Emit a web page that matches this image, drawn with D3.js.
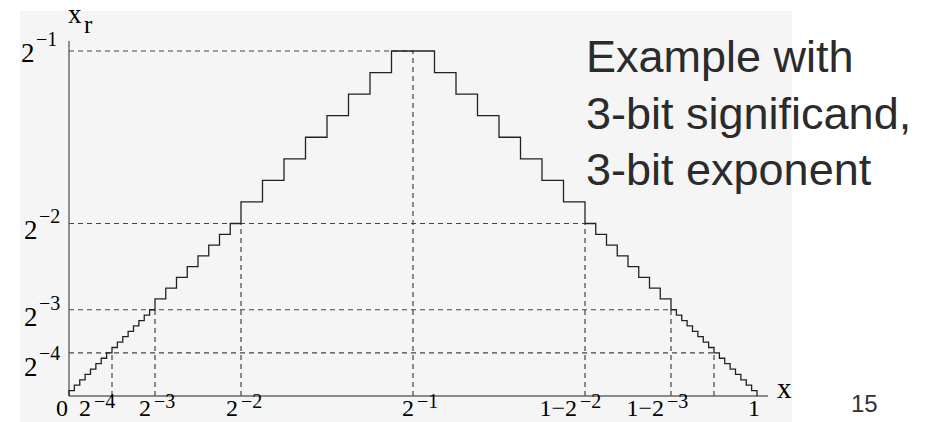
<!DOCTYPE html>
<html>
<head>
<meta charset="utf-8">
<script src="https://cdn.jsdelivr.net/npm/d3@7"></script>
<style>
  body { margin: 0; background: #fff; }
  svg { display: block; }
</style>
</head>
<body>
<div id="vis"></div>
<script>
// rounded value x_r against x, both in units of 1/128
var stepX = [0,1,2,3,4,5,6,7,8,9,10,11,12,13,14,15,16,
  18,20,22,24,26,28,30,32,
  36,40,44,48,52,56,60,64,
  68,72,76,80,84,88,92,96,
  98,100,102,104,106,108,110,112,
  113,114,115,116,117,118,119,120,121,122,123,124,125,126,127,128,128];
var stepY = [0,1,2,3,4,5,6,7,8,9,10,11,12,13,14,15,16,
  18,20,22,24,26,28,30,32,
  36,40,44,48,52,56,60,64,
  64,60,56,52,48,44,40,36,
  32,30,28,26,24,22,20,18,
  16,15,14,13,12,11,10,9,8,7,6,5,4,3,2,1,0];

// powers of two marked with dashed guides
var guideVals = [1/16, 1/8, 1/4, 1/2];

// tick labels: base text and superscript
var xTickVals = [0, 1/16, 1/8, 1/4, 1/2, 3/4, 7/8, 1];
var xTickBase = ["0", "2", "2", "2", "2", "1\u22122", "1\u22122", "1"];
var xTickSup  = ["", "\u22124", "\u22123", "\u22122", "\u22121", "\u22122", "\u22123", ""];
var yTickVals = [1/2, 1/4, 1/8, 1/16];
var yTickBase = ["2", "2", "2", "2"];
var yTickSup  = ["\u22121", "\u22122", "\u22123", "\u22124"];

var titleLines = ["Example with", "3-bit significand,", "3-bit exponent"];
var pageNumber = "15";

var W = 943, H = 422;
var svg = d3.select("#vis").append("svg")
    .attr("width", W)
    .attr("height", H);

// slide panel
svg.append("rect")
    .attr("x", 20).attr("y", 11)
    .attr("width", 772).attr("height", H - 11)
    .attr("fill", "#f5f5f5");

var x = d3.scaleLinear().domain([0, 1]).range([69, 757]);
var y = d3.scaleLinear().domain([0, 0.5]).range([396, 51]);

var serif = "'Liberation Serif', 'Times New Roman', serif";
var g = svg.append("g");

// dashed guides
var guides = g.append("g")
    .attr("stroke", "#444")
    .attr("stroke-width", 1.2)
    .attr("stroke-dasharray", "5,4")
    .attr("fill", "none");

guides.selectAll("line.h")
  .data(guideVals)
  .enter().append("line")
    .attr("class", "h")
    .attr("x1", x(0)).attr("x2", function(d) { return x(1 - d); })
    .attr("y1", function(d) { return y(d); })
    .attr("y2", function(d) { return y(d); });

var vGuides = guideVals.concat(guideVals.slice(0, 3).map(function(d) { return 1 - d; }));
guides.selectAll("line.v")
  .data(vGuides)
  .enter().append("line")
    .attr("class", "v")
    .attr("x1", function(d) { return x(d); })
    .attr("x2", function(d) { return x(d); })
    .attr("y1", y(0))
    .attr("y2", function(d) { return y(Math.min(d, 1 - d)); });

// axes
g.append("line")
    .attr("x1", x(0)).attr("x2", x(1.016))
    .attr("y1", y(0)).attr("y2", y(0))
    .attr("stroke", "#666").attr("stroke-width", 1.4);
g.append("line")
    .attr("x1", x(0)).attr("x2", x(0))
    .attr("y1", y(0)).attr("y2", y(0.5145))
    .attr("stroke", "#666").attr("stroke-width", 1.4);

// staircase
var pts = stepX.map(function(d, i) { return [d / 128, stepY[i] / 128]; });
var line = d3.line()
    .x(function(d) { return x(d[0]); })
    .y(function(d) { return y(d[1]); })
    .curve(d3.curveStepBefore);

g.append("path")
    .datum(pts)
    .attr("d", line)
    .attr("fill", "none")
    .attr("stroke", "#222")
    .attr("stroke-width", 1.3);

// x tick labels (base end offset from tick)
var xBaseEnd = [0, -21, -4, -3, 1, -8, -7, 0];
var xLab = g.append("g")
    .attr("font-family", serif)
    .attr("fill", "#000");

xTickVals.forEach(function(v, i) {
  var px = x(v) + xBaseEnd[i];
  if (xTickSup[i] === "") {
    xLab.append("text")
        .attr("x", i === 0 ? x(v) - 7 : x(v) - 3)
        .attr("y", 416)
        .attr("text-anchor", "middle")
        .attr("font-size", 24)
        .text(xTickBase[i]);
    return;
  }
  xLab.append("text")
      .attr("x", px).attr("y", 416)
      .attr("text-anchor", "end")
      .attr("font-size", 24)
      .text(xTickBase[i]);
  xLab.append("text")
      .attr("x", px + 3).attr("y", 408)
      .attr("font-size", 20)
      .text(xTickSup[i]);
});

// y tick labels (offset of baseline below the tick)
var yBaseDy = [11, 15, 16, 23];
var yBaseX = [21, 24, 24, 24];
var yLab = g.append("g")
    .attr("font-family", serif)
    .attr("fill", "#000");

yTickVals.forEach(function(v, i) {
  yLab.append("text")
      .attr("x", yBaseX[i]).attr("y", y(v) + yBaseDy[i])
      .attr("font-size", 27)
      .text(yTickBase[i]);
  yLab.append("text")
      .attr("x", yBaseX[i] + 15).attr("y", y(v) + yBaseDy[i] - 16)
      .attr("font-size", 20)
      .text(yTickSup[i]);
});

// axis names
g.append("text")
    .attr("x", 68).attr("y", 23)
    .attr("font-family", serif).attr("font-size", 27).attr("fill", "#000")
    .text("x");
g.append("text")
    .attr("x", 84).attr("y", 33)
    .attr("font-family", serif).attr("font-size", 25).attr("fill", "#000")
    .text("r");
g.append("text")
    .attr("x", 777).attr("y", 398)
    .attr("font-family", serif).attr("font-size", 29).attr("fill", "#000")
    .text("x");

// slide text
svg.append("g")
    .attr("font-family", "'Liberation Sans', Arial, sans-serif")
    .attr("font-size", 45)
    .attr("fill", "#2b2b2b")
  .selectAll("text")
  .data(titleLines)
  .enter().append("text")
    .attr("x", 586)
    .attr("y", function(d, i) { return 72 + i * 56.7; })
    .text(function(d) { return d; });

svg.append("text")
    .attr("x", 851).attr("y", 412)
    .attr("font-family", "'Liberation Sans', Arial, sans-serif")
    .attr("font-size", 24)
    .attr("fill", "#333")
    .text(pageNumber);
</script>
</body>
</html>
